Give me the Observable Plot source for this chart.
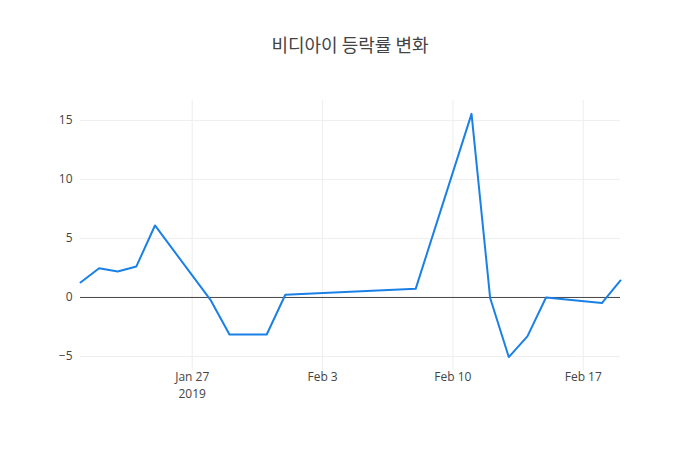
<!DOCTYPE html>
<html>
<head>
<meta charset="utf-8">
<script src="https://cdn.jsdelivr.net/npm/d3@7"></script>
<script src="https://cdn.jsdelivr.net/npm/@observablehq/plot@0.6"></script>
<style>
  html, body { margin: 0; padding: 0; background: #fff; }
  #wrap { width: 700px; height: 450px; position: relative; }
  #title { height: 100px; width: 700px; box-sizing: border-box; padding-top: 31px; text-align: center;
    font-family: "Noto Sans CJK KR", "Open Sans", sans-serif; font-size: 18px; color: #444; }
  svg { display: block; }
</style>
</head>
<body>
<div id="wrap">
  <div id="title">비디아이 등락률 변화</div>
  <div id="chart"></div>
</div>
<script>
const dates = ["2019-01-21","2019-01-22","2019-01-23","2019-01-24","2019-01-25",
  "2019-01-28","2019-01-29","2019-01-30","2019-01-31","2019-02-01",
  "2019-02-08","2019-02-11","2019-02-12","2019-02-13","2019-02-14","2019-02-15",
  "2019-02-18","2019-02-19"];
const changes = [1.27, 2.48, 2.2, 2.63, 6.1,
  -0.25, -3.14, -3.14, -3.14, 0.23,
  0.73, 15.56, -0.05, -5.05, -3.3, 0.0,
  -0.48, 1.44];
const xTicks = ["2019-01-27","2019-02-03","2019-02-10","2019-02-17"];
const xTickLabels = ["Jan 27","Feb 3","Feb 10","Feb 17"];
const yearTick = "2019-01-27";
const yearLabel = "2019";
const yTicks = [-5, 0, 5, 10, 15];

const parse = d3.utcParse("%Y-%m-%d");
const data = dates.map((d, i) => ({date: parse(d), value: changes[i]}));
const xt = xTicks.map(parse);
const labelMap = new Map(xt.map((d, i) => [+d, xTickLabels[i]]));

const chart = Plot.plot({
  width: 700,
  height: 350,
  marginTop: 0,
  marginBottom: 80,
  marginLeft: 80,
  marginRight: 80,
  style: {fontFamily: "'Open Sans', sans-serif", fontSize: "12px", color: "#444", background: "#fff"},
  x: {type: "utc", domain: [parse("2019-01-21"), parse("2019-02-19")], label: null},
  y: {domain: [-6.19, 16.69], label: null},
  marks: [
    Plot.ruleY(yTicks.filter(v => v !== 0), {stroke: "#eee", strokeWidth: 1, strokeOpacity: 1}),
    Plot.ruleX(xt, {stroke: "#eee", strokeWidth: 1, strokeOpacity: 1}),
    Plot.ruleY([0], {stroke: "#444", strokeWidth: 1, strokeOpacity: 1}),
    Plot.line(data, {x: "date", y: "value", stroke: "#1a80e6", strokeWidth: 2, curve: "linear"}),
    Plot.axisY({ticks: yTicks, tickSize: 0, tickPadding: 8, label: null, fontSize: 12, color: "#444"}),
    Plot.axisX({ticks: xt, tickSize: 0, tickPadding: 2, label: null, fontSize: 12,
      tickFormat: d => labelMap.get(+d)}),
    Plot.axisX({ticks: [parse(yearTick)], tickSize: 0, tickPadding: 19, label: null, fontSize: 12,
      tickFormat: () => yearLabel})
  ]
});
document.getElementById("chart").appendChild(chart);
</script>
</body>
</html>
